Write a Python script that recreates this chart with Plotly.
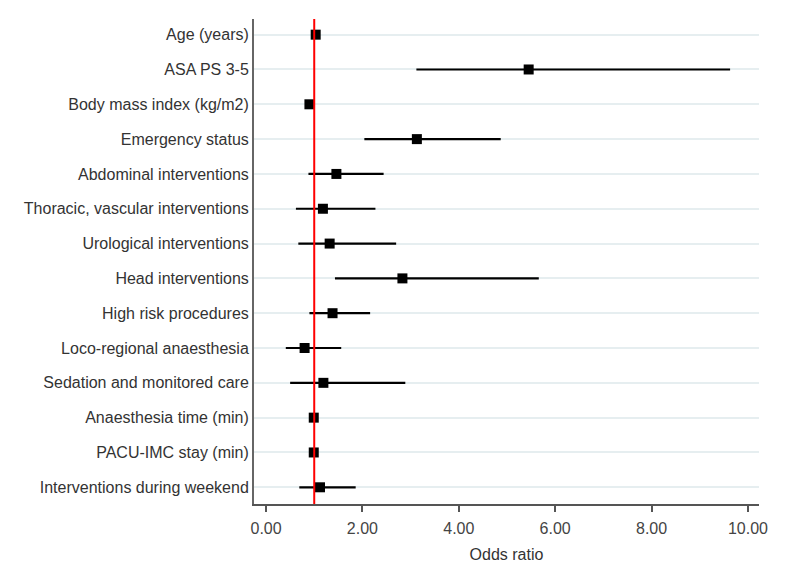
import plotly.graph_objects as go

categories = [
    "Age (years)", "ASA PS 3-5", "Body mass index (kg/m2)", "Emergency status",
    "Abdominal interventions", "Thoracic, vascular interventions",
    "Urological interventions", "Head interventions", "High risk procedures",
    "Loco-regional anaesthesia", "Sedation and monitored care",
    "Anaesthesia time (min)", "PACU-IMC stay (min)", "Interventions during weekend",
]
odds_ratio = [1.03, 5.45, 0.90, 3.13, 1.46, 1.18, 1.32, 2.83, 1.38, 0.80, 1.19, 0.99, 0.99, 1.12]
ci_low = [1.01, 3.12, 0.88, 2.04, 0.88, 0.62, 0.67, 1.43, 0.90, 0.41, 0.50, 0.98, 0.98, 0.69]
ci_high = [1.05, 9.63, 0.92, 4.87, 2.44, 2.27, 2.70, 5.66, 2.16, 1.56, 2.89, 1.00, 1.00, 1.86]
x_ticks = [0, 2, 4, 6, 8, 10]
x_tick_labels = ["0.00", "2.00", "4.00", "6.00", "8.00", "10.00"]
reference_value = 1.0

err_plus = [h - o for h, o in zip(ci_high, odds_ratio)]
err_minus = [o - l for o, l in zip(odds_ratio, ci_low)]

fig = go.Figure()
fig.add_trace(go.Scatter(
    x=odds_ratio, y=categories, mode="markers",
    marker=dict(symbol="square", size=10, color="black"),
    error_x=dict(type="data", symmetric=False, array=err_plus, arrayminus=err_minus,
                 width=0, thickness=2.2, color="black"),
    showlegend=False,
))
fig.add_shape(type="line", xref="x", yref="paper", x0=reference_value, x1=reference_value,
              y0=0, y1=1, line=dict(color="#ff0000", width=2), layer="above")

font_family = "Liberation Sans, Arial, sans-serif"
fig.update_layout(
    width=790, height=580,
    margin=dict(l=246, r=39, t=11, b=84),
    plot_bgcolor="white", paper_bgcolor="white",
    font=dict(family=font_family, size=16, color="#333333"),
    xaxis=dict(
        range=[-0.25, 10.23], tickvals=x_ticks, ticktext=x_tick_labels,
        showgrid=False, zeroline=False, showline=True, linecolor="#555555", linewidth=1.5,
        ticks="outside", ticklen=6, tickcolor="#555555", tickwidth=1.5,
        ticklabelstandoff=3,
        tickfont=dict(size=16, color="#444444"),
        title=dict(text="Odds ratio", font=dict(size=16, color="#333333"), standoff=13),
    ),
    yaxis=dict(
        categoryorder="array", categoryarray=categories,
        range=[13.48, -0.45], showgrid=True, gridcolor="#e6eef0", gridwidth=2,
        zeroline=False, showline=True, linecolor="#666666", linewidth=2,
        ticks="", tickfont=dict(size=16, color="#333333"),
    ),
)
fig.write_html("out.html")
